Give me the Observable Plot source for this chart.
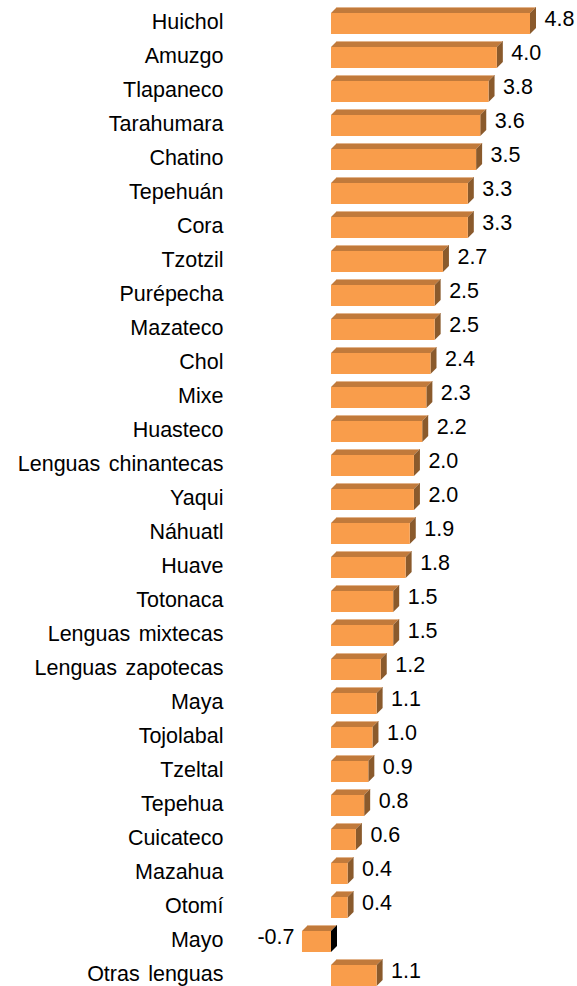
<!DOCTYPE html>
<html>
<head>
<meta charset="utf-8">
<script src="https://cdn.jsdelivr.net/npm/d3@7"></script>
<script src="https://cdn.jsdelivr.net/npm/@observablehq/plot@0.6"></script>
<style>
  html, body { margin: 0; padding: 0; background: #fff; }
  .chart text { word-spacing: 2.5px; }
</style>
</head>
<body>
<div id="chart"></div>
<script>
const categories = ["Huichol","Amuzgo","Tlapaneco","Tarahumara","Chatino","Tepehuán","Cora","Tzotzil","Purépecha","Mazateco","Chol","Mixe","Huasteco","Lenguas chinantecas","Yaqui","Náhuatl","Huave","Totonaca","Lenguas mixtecas","Lenguas zapotecas","Maya","Tojolabal","Tzeltal","Tepehua","Cuicateco","Mazahua","Otomí","Mayo","Otras lenguas"];
const values = [4.8,4.0,3.8,3.6,3.5,3.3,3.3,2.7,2.5,2.5,2.4,2.3,2.2,2.0,2.0,1.9,1.8,1.5,1.5,1.2,1.1,1.0,0.9,0.8,0.6,0.4,0.4,-0.7,1.1];

const data = categories.map((name, i) => ({name, value: values[i]}));

const FRONT = "#F99D4B", TOP = "#C17A3B", SIDE = "#8A5A2C", EDGE = "#E2B48C";
const DEPTH = 6;

const bars3d = Plot.barX(data, {
  x: "value", y: "name",
  render(index, scales) {
    const {x, y} = scales;
    const bw = y.bandwidth ? y.bandwidth() : 21;
    const g = d3.create("svg:g");
    for (const i of index) {
      const v = data[i].value;
      const xa = x(Math.min(0, v)), xb = x(Math.max(0, v));
      const yt = y(data[i].name), yb = yt + bw;
      const d = DEPTH;
      g.append("polygon")
        .attr("points", [[xa, yt], [xb, yt], [xb + d, yt - d], [xa + d, yt - d]].join(" "))
        .attr("fill", TOP);
      g.append("line")
        .attr("x1", xa + d).attr("y1", yt - d + 0.5).attr("x2", xb + d).attr("y2", yt - d + 0.5)
        .attr("stroke", EDGE).attr("stroke-width", 1);
      g.append("polygon")
        .attr("points", [[xb, yt], [xb + d, yt - d], [xb + d, yb - d], [xb, yb]].join(" "))
        .attr("fill", v < 0 ? "#000" : SIDE);
      g.append("rect")
        .attr("x", xa).attr("y", yt).attr("width", xb - xa).attr("height", bw)
        .attr("fill", FRONT);
    }
    return g.node();
  }
});

const chart = Plot.plot({
  className: "chart",
  width: 577,
  height: 986,
  marginTop: 0, marginBottom: 0, marginRight: 0,
  marginLeft: 231,
  x: {domain: [0, 4.8], range: [331, 530], axis: null},
  y: {domain: categories, range: [-1.04, 999.2], padding: 0.383, axis: null},
  style: {fontFamily: "'Liberation Sans', Arial, sans-serif", fontSize: "21.5px", color: "#000", background: "#fff"},
  marks: [
    Plot.axisY({anchor: "left", tickSize: 0, tickPadding: 8, fontSize: 21.5, fill: "#000", label: null, dy: -2}),
    bars3d,
    Plot.text(data.filter(d => d.value >= 0), {
      x: "value", y: "name", text: d => d.value.toFixed(1),
      textAnchor: "start", dx: 14, dy: -4.5, fontSize: 21.5, fill: "#000"
    }),
    Plot.text(data.filter(d => d.value < 0), {
      x: "value", y: "name", text: d => d.value.toFixed(1),
      textAnchor: "end", dx: -8, dy: -4.5, fontSize: 21.5, fill: "#000"
    })
  ]
});
document.getElementById("chart").appendChild(chart);
</script>
</body>
</html>
